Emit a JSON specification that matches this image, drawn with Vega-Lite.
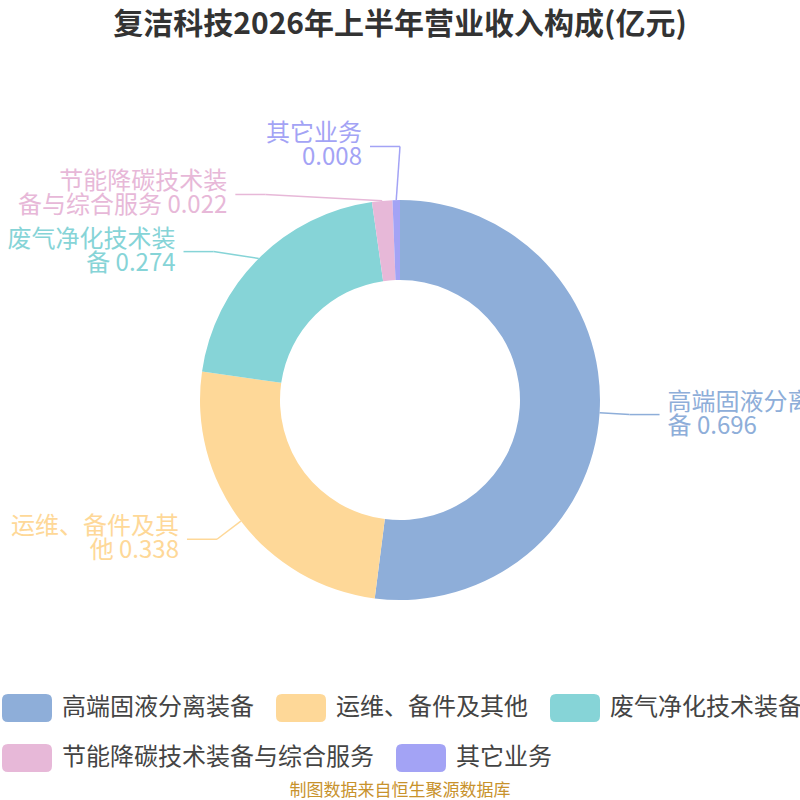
{
  "$schema": "https://vega.github.io/schema/vega-lite/v6.json",
  "width": 800,
  "height": 800,
  "autosize": "none",
  "padding": 0,
  "background": "white",
  "title": {
    "text": "复洁科技2026年上半年营业收入构成(亿元)",
    "anchor": "middle",
    "frame": "group",
    "offset": 0,
    "baseline": "alphabetic",
    "dy": 64,
    "fontSize": 30,
    "fontWeight": "bold",
    "font": "Noto Sans CJK SC",
    "color": "#333333"
  },
  "config": {
    "view": {"stroke": null},
    "font": "Noto Sans CJK SC",
    "legend": {
      "orient": "none",
      "direction": "horizontal",
      "padding": 0,
      "symbolType": "M-0.76,-0.56 L0.76,-0.56 Q1,-0.56 1,-0.32 L1,0.32 Q1,0.56 0.76,0.56 L-0.76,0.56 Q-1,0.56 -1,0.32 L-1,-0.32 Q-1,-0.56 -0.76,-0.56 Z",
      "symbolSize": 2500,
      "symbolStrokeWidth": 0,
      "symbolOpacity": 1,
      "labelFont": "Noto Sans CJK SC",
      "labelFontSize": 24,
      "labelColor": "#444444",
      "labelLimit": 400,
      "labelOffset": 10,
      "columnPadding": 22
    }
  },
  "data": {
    "values": [
      {"category": "高端固液分离装备", "value": 0.696, "order": 1},
      {"category": "运维、备件及其他", "value": 0.338, "order": 2},
      {"category": "废气净化技术装备", "value": 0.274, "order": 3},
      {"category": "节能降碳技术装备与综合服务", "value": 0.022, "order": 4},
      {"category": "其它业务", "value": 0.008, "order": 5}
    ]
  },
  "layer": [
    {
      "mark": {"type": "arc", "innerRadius": 120, "outerRadius": 200},
      "encoding": {
        "theta": {"field": "value", "type": "quantitative", "stack": true},
        "order": {"field": "order", "type": "quantitative"},
        "fill": {
          "field": "category",
          "type": "nominal",
          "sort": null,
          "scale": {
            "domain": ["高端固液分离装备", "运维、备件及其他", "废气净化技术装备", "节能降碳技术装备与综合服务", "其它业务"],
            "range": ["#8eaed9", "#fed898", "#86d4d7", "#e7b8d8", "#a3a3f5"]
          },
          "legend": {
            "title": null,
            "legendX": 2,
            "legendY": 683,
            "values": ["高端固液分离装备", "运维、备件及其他", "废气净化技术装备"]
          }
        }
      }
    },
    {
      "transform": [
        {"joinaggregate": [{"op": "sum", "field": "value", "as": "total"}]},
        {"stack": "value", "groupby": [], "sort": [{"field": "order", "order": "ascending"}], "as": ["v0", "v1"]},
        {"calculate": "PI * (datum.v0 + datum.v1) / datum.total", "as": "mid"},
        {"calculate": "sin(datum.mid) >= 0 ? 1 : -1", "as": "side"},
        {"calculate": "-230 * cos(datum.mid)", "as": "y0"},
        {"window": [{"op": "row_number", "as": "i"}], "groupby": ["side"], "sort": [{"field": "y0", "order": "ascending"}]},
        {"calculate": "datum.y0 - datum.i * 48", "as": "zd"},
        {"window": [{"op": "max", "field": "zd", "as": "zdmax"}], "groupby": ["side"], "sort": [{"field": "y0", "order": "ascending"}], "frame": [null, 0]},
        {"calculate": "datum.zdmax + datum.i * 48", "as": "yd"},
        {"window": [{"op": "row_number", "as": "k"}], "groupby": ["side"], "sort": [{"field": "y0", "order": "descending"}]},
        {"calculate": "datum.y0 + datum.k * 48", "as": "zu"},
        {"window": [{"op": "min", "field": "zu", "as": "zumin"}], "groupby": ["side"], "sort": [{"field": "y0", "order": "descending"}], "frame": [null, 0]},
        {"calculate": "datum.zumin - datum.k * 48", "as": "yu"},
        {"calculate": "(datum.yd + datum.yu) / 2", "as": "ly"},
        {"calculate": "abs(datum.ly)", "as": "absly"},
        {"calculate": "datum.ly < 0 ? -1 : 1", "as": "semi"},
        {"joinaggregate": [{"op": "max", "field": "absly", "as": "maxly"}], "groupby": ["side", "semi"]},
        {"calculate": "max(230, datum.maxly)", "as": "rb"},
        {"calculate": "230 * sqrt(max(0, 1 - datum.ly * datum.ly / (datum.rb * datum.rb)))", "as": "dx"},
        {"calculate": "200 * sin(datum.mid)", "as": "ex"},
        {"calculate": "-200 * cos(datum.mid)", "as": "ey"},
        {"calculate": "datum.side * datum.dx", "as": "px"},
        {"calculate": "datum.side * (datum.dx + 30)", "as": "qx"},
        {"calculate": "datum.side * (datum.dx + 38)", "as": "tx"},
        {"calculate": "length(datum.category) > 7 ? [substring(datum.category, 0, 7), substring(datum.category, 7) + ' ' + datum.value] : [datum.category, '' + datum.value]", "as": "lab"}
      ],
      "layer": [
        {
          "mark": {"type": "rule", "strokeWidth": 1.5},
          "encoding": {
            "x": {"field": "ex", "type": "quantitative", "scale": {"domain": [-400, 400], "nice": false, "zero": false}, "axis": null},
            "y": {"field": "ey", "type": "quantitative", "scale": {"domain": [-400, 400], "nice": false, "zero": false, "reverse": true}, "axis": null},
            "x2": {"field": "px"},
            "y2": {"field": "ly"},
            "stroke": {
              "field": "category",
              "type": "nominal",
              "sort": null,
              "scale": {
                "domain": ["节能降碳技术装备与综合服务", "其它业务", "高端固液分离装备", "运维、备件及其他", "废气净化技术装备"],
                "range": ["#e7b8d8", "#a3a3f5", "#8eaed9", "#fed898", "#86d4d7"]
              },
              "legend": {
                "title": null,
                "legendX": 2,
                "legendY": 733,
                "values": ["节能降碳技术装备与综合服务", "其它业务"],
                "encode": {
                  "symbols": {
                    "update": {
                      "fill": {"scale": "stroke", "field": "value"},
                      "strokeWidth": {"value": 0}
                    }
                  }
                }
              }
            }
          }
        },
        {
          "mark": {"type": "rule", "strokeWidth": 1.5},
          "encoding": {
            "x": {"field": "px", "type": "quantitative", "axis": null},
            "y": {"field": "ly", "type": "quantitative", "axis": null},
            "x2": {"field": "qx"},
            "stroke": {"field": "category", "type": "nominal", "sort": null}
          }
        },
        {
          "mark": {
            "type": "text",
            "fontSize": 24,
            "font": "Noto Sans CJK SC",
            "baseline": "middle",
            "lineHeight": 24,
            "dy": -12,
            "align": {"expr": "datum.side > 0 ? 'left' : 'right'"}
          },
          "encoding": {
            "x": {"field": "tx", "type": "quantitative", "axis": null},
            "y": {"field": "ly", "type": "quantitative", "axis": null},
            "text": {"field": "lab"},
            "color": {
              "field": "category",
              "type": "nominal",
              "sort": null,
              "scale": {
                "domain": ["高端固液分离装备", "运维、备件及其他", "废气净化技术装备", "节能降碳技术装备与综合服务", "其它业务"],
                "range": ["#8eaed9", "#fed898", "#86d4d7", "#e7b8d8", "#a3a3f5"]
              },
              "legend": null
            }
          }
        }
      ]
    },
    {
      "data": {"values": [{"source": "制图数据来自恒生聚源数据库"}]},
      "mark": {"type": "text", "fontSize": 17, "font": "Noto Sans CJK SC", "color": "#c8922c", "baseline": "middle"},
      "encoding": {
        "x": {"datum": 0, "type": "quantitative"},
        "y": {"datum": 391, "type": "quantitative"},
        "text": {"field": "source"}
      }
    }
  ]
}
